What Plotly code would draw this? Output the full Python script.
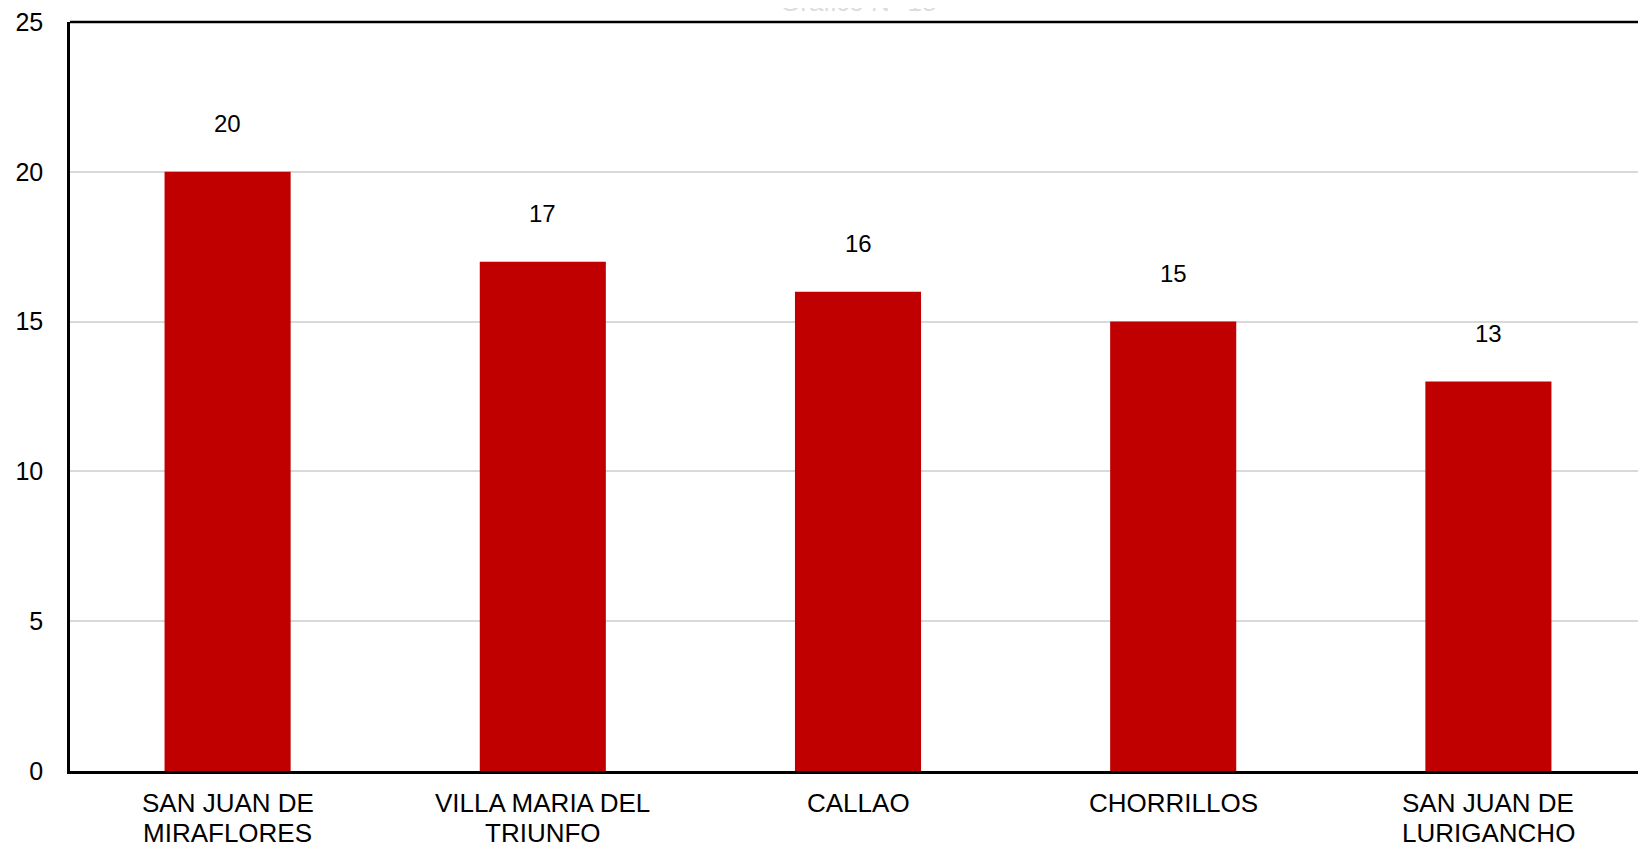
import plotly.graph_objects as go

categories = ["SAN JUAN DE<br>MIRAFLORES", "VILLA MARIA DEL<br>TRIUNFO", "CALLAO", "CHORRILLOS", "SAN JUAN DE<br>LURIGANCHO"]
values = [20, 17, 16, 15, 13]
y_ticks = [0, 5, 10, 15, 20, 25]
title_text = "Gráfico N° 18"

FONT = "Liberation Sans, Arial, sans-serif"

fig = go.Figure()
fig.add_trace(go.Bar(
    x=categories, y=values,
    marker=dict(color="#C00000", line=dict(width=0)),
    width=0.4,
    hoverinfo="y",
))

for c, v in zip(categories, values):
    fig.add_annotation(x=c, y=v, text=str(v), showarrow=False,
                       xref="x", yref="y", yanchor="middle", yshift=48,
                       font=dict(family=FONT, size=24, color="#000000"))

# category labels (two-line, tighter line spacing than default)
for c in categories:
    for i, line in enumerate(c.split("<br>")):
        fig.add_annotation(x=c, y=0, text=line, showarrow=False,
                           xref="x", yref="y", yanchor="middle",
                           yshift=-32 - 29.5 * i,
                           font=dict(family=FONT, size=26, color="#000000"))

fig.add_annotation(x=0.5, y=1, xref="paper", yref="paper", text=title_text,
                   showarrow=False, yanchor="bottom", yshift=3,
                   font=dict(family=FONT, size=26, color="#dcdcdc"))

fig.add_shape(type="line", xref="paper", yref="paper", x0=0, x1=1, y0=1, y1=1,
              line=dict(color="#000000", width=2.5))

fig.update_layout(
    width=1638, height=840,
    margin=dict(l=62, r=0, t=11, b=77),
    paper_bgcolor="white", plot_bgcolor="white",
    showlegend=False,
    bargap=0.6,
    font=dict(family=FONT, color="#000000"),
)
fig.update_xaxes(
    showline=True, linecolor="#000000", linewidth=2.5,
    showgrid=False, ticks="", showticklabels=False,
)
fig.update_yaxes(
    range=[0, 25], tickvals=y_ticks,
    showline=True, linecolor="#000000", linewidth=2.5,
    showgrid=True, gridcolor="#d9d9d9", gridwidth=1.5,
    zeroline=False, ticks="",
    tickfont=dict(family=FONT, size=25, color="#000000"),
    ticklabelstandoff=19, ticklabeloverflow="allow",
)

fig.write_html("out.html")
